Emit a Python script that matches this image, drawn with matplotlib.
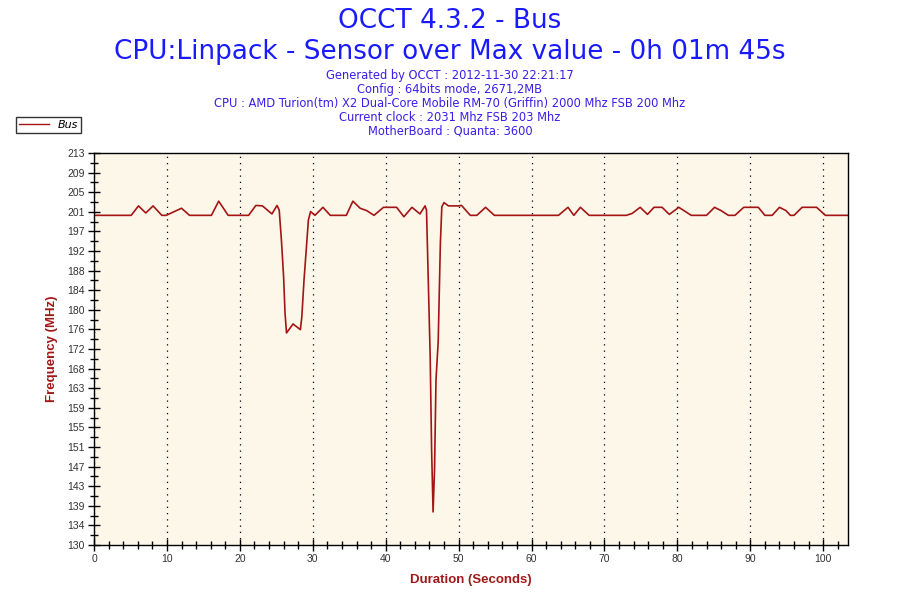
import numpy as np
import matplotlib.pyplot as plt
from matplotlib.ticker import MultipleLocator, FixedLocator
from matplotlib.lines import Line2D

# Bus frequency trace
seconds = [0.0, 5.1, 6.1, 7.1, 8.1, 9.3, 9.9, 12.0, 13.1, 16.1, 17.1, 18.4,
           21.2, 22.2, 23.1, 24.4, 25.1, 25.4, 25.7, 26.0, 26.2, 26.4, 27.3,
           28.3, 28.5, 28.8, 29.1, 29.4, 29.7, 30.3, 31.4, 32.4, 34.6, 35.5,
           36.5, 37.4, 38.4, 39.7, 41.5, 42.5, 43.6, 44.7, 45.4, 45.6, 46.1,
           46.3, 46.5, 46.7, 46.9, 47.2, 47.5, 47.7, 48.0, 48.6, 50.0, 50.4,
           51.6, 52.5, 53.7, 54.9, 63.7, 65.0, 65.8, 66.7, 67.9, 73.0, 73.8,
           74.9, 75.9, 76.8, 77.9, 78.9, 80.2, 81.9, 84.0, 85.1, 86.0, 87.0,
           87.9, 89.1, 91.1, 92.0, 93.0, 94.0, 94.9, 95.5, 96.0, 97.1, 99.1,
           100.3, 103.4]
bus_mhz = [199.8, 199.8, 201.8, 200.3, 201.8, 199.8, 199.8, 201.3, 199.8, 199.8, 202.8, 199.8,
           199.8, 201.9, 201.8, 200.1, 201.9, 200.9, 194.6, 186.8, 179.0, 174.9, 176.8,
           175.6, 178.3, 186.1, 192.4, 198.8, 200.6, 199.8, 201.5, 199.8, 199.8, 202.8,
           201.3, 200.8, 199.8, 201.5, 201.5, 199.5, 201.5, 200.1, 201.8, 200.9, 170.0,
           150.0, 137.0, 146.0, 165.0, 173.0, 193.9, 201.6, 202.5, 201.8, 201.8, 201.9,
           199.8, 199.8, 201.5, 199.8, 199.8, 201.5, 199.8, 201.5, 199.8, 199.8, 200.2,
           201.5, 200.0, 201.5, 201.5, 200.0, 201.5, 199.8, 199.8, 201.5, 200.8, 199.8,
           199.8, 201.5, 201.5, 199.8, 199.8, 201.5, 200.8, 199.8, 199.8, 201.5, 201.5,
           199.8, 199.8]

y_labels = ["130", "134", "139", "143", "147", "151", "155", "159", "163", "168",
            "172", "176", "180", "184", "188", "192", "197", "201", "205", "209", "213"]
x_max = 103.4
y_min, y_max = 130, 213

title_lines = ["OCCT 4.3.2 - Bus",
               "CPU:Linpack - Sensor over Max value - 0h 01m 45s"]
info_lines = ["Generated by OCCT : 2012-11-30 22:21:17",
              "Config : 64bits mode, 2671,2MB",
              "CPU : AMD Turion(tm) X2 Dual-Core Mobile RM-70 (Griffin) 2000 Mhz FSB 200 Mhz",
              "Current clock : 2031 Mhz FSB 203 Mhz",
              "MotherBoard : Quanta: 3600"]

line_color = "#a31515"
label_color = "#a01818"

fig = plt.figure(figsize=(9, 6), dpi=100)
ax = fig.add_axes([94 / 900, 1 - 545 / 600, (848 - 94) / 900, (545 - 153) / 600])
ax.set_facecolor("#fdf7ea")

ax.plot(seconds, bus_mhz, color=line_color, linewidth=1.2)

ax.set_xlim(0, x_max)
ax.set_ylim(y_min, y_max)
ax.xaxis.set_major_locator(MultipleLocator(10))
ax.xaxis.set_minor_locator(MultipleLocator(2))
y_pos = np.linspace(y_min, y_max, len(y_labels))
ax.yaxis.set_major_locator(FixedLocator(y_pos))
ax.set_yticklabels(y_labels)
ax.yaxis.set_minor_locator(FixedLocator((y_pos[:-1] + y_pos[1:]) / 2))

ax.tick_params(which="major", direction="inout", length=9, width=1, color="black",
               labelsize=7.5, labelcolor="#333333", pad=2)
ax.tick_params(which="minor", direction="inout", length=6, width=1, color="black")
for s in ax.spines.values():
    s.set_color("black")
    s.set_linewidth(1)

ax.grid(True, axis="x", which="major", color="black", linestyle=(0, (1, 4)), linewidth=0.9)

ax.set_xlabel("Duration (Seconds)", color=label_color, fontsize=9.5, fontweight="bold",
              family="Liberation Sans", labelpad=7.5)
ax.set_ylabel("Frequency (MHz)", color=label_color, fontsize=9.5, fontweight="bold",
              family="Liberation Sans", labelpad=7)
for lab in ax.get_xticklabels() + ax.get_yticklabels():
    lab.set_family("Liberation Sans")

fig.text(0.5, 1 - 21 / 600, title_lines[0], ha="center", va="center", fontsize=18.9, color="#1a1aff")
fig.text(0.5, 1 - 52 / 600, title_lines[1], ha="center", va="center", fontsize=18.9, color="#1a1aff")
for i, line in enumerate(info_lines):
    fig.text(0.5, 1 - (76 + 13.8 * i) / 600, line, ha="center", va="center",
             fontsize=8.3, color="#3a1fe6")

handle = Line2D([], [], color=line_color, linewidth=1)
leg = fig.legend([handle], ["Bus"], loc="upper left", bbox_to_anchor=(10 / 900, 1 - 111 / 600),
                 frameon=True, fancybox=False, handlelength=2.7, borderpad=0.3,
                 prop={"size": 8, "style": "italic"})
leg.get_frame().set_edgecolor("black")
leg.get_frame().set_linewidth(1)

fig.savefig("out.png", dpi=100)
